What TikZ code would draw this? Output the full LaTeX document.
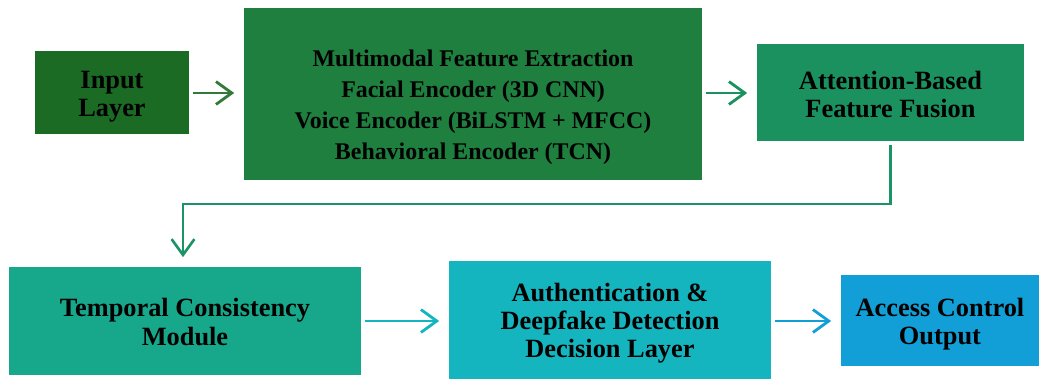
\documentclass[tikz,border=0pt]{standalone}
\usepackage{fontspec}
\setmainfont{Liberation Serif}
\usetikzlibrary{arrows.meta}
\definecolor{inputgreen}{HTML}{1B6B24}
\definecolor{multigreen}{HTML}{1E7F3F}
\definecolor{fusiongreen}{HTML}{1B9160}
\definecolor{temporalteal}{HTML}{17A88C}
\definecolor{decisioncyan}{HTML}{14B5BE}
\definecolor{accessblue}{HTML}{129ED6}
\tikzset{
  block/.style={rectangle, inner sep=0pt},
  caption/.style={inner sep=0pt, align=center, text=black,
    font=\bfseries\fontsize{15}{16}\selectfont},
  flow/.style={line width=1.6pt, -{Straight Barb[length=9pt,width=13pt]},
    shorten <=0.08cm, shorten >=0.19cm},
}
\begin{document}
\begin{tikzpicture}[x=0.02cm, y=-0.02cm]
      \useasboundingbox (0,0) rectangle (1039,379);
      \node[block, fill=inputgreen, minimum width=3.08cm, minimum height=1.66cm]
        (input) at (112,92.5) {};
      \node[block, fill=multigreen, minimum width=9.16cm, minimum height=3.44cm]
        (multi) at (473,94) {};
      \node[block, fill=fusiongreen, minimum width=5.34cm, minimum height=1.94cm]
        (fusion) at (890.5,92.5) {};
      \node[block, fill=temporalteal, minimum width=7.04cm, minimum height=2.16cm]
        (temporal) at (185,321) {};
      \node[block, fill=decisioncyan, minimum width=6.44cm, minimum height=2.36cm]
        (decision) at (610,320) {};
      \node[block, fill=accessblue, minimum width=3.96cm, minimum height=1.82cm]
        (access) at (940,320.5) {};
      \node[caption] (inputtext) at (112,96.5) {Input\\Layer};
      \node[caption, font=\bfseries\fontsize{13.6}{17.6}\selectfont]
        (multitext) at (473,107.5) {Multimodal Feature Extraction\\
          Facial Encoder (3D CNN)\\
          Voice Encoder (BiLSTM + MFCC)\\
          Behavioral Encoder (TCN)};
      \node[caption] (fusiontext) at (890.5,94.5) {Attention-Based\\Feature Fusion};
      \node[caption] (temporaltext) at (185,322) {Temporal Consistency\\Module};
      \node[caption] (decisiontext) at (610,323) {Authentication \&\\Deepfake Detection\\Decision Layer};
      \node[caption] (accesstext) at (940,324.5) {Access Control\\Output};
      \begin{scope}[flow]
        \draw[color=inputgreen!90!white] (input.east |- 0,93) -- (multi.west |- 0,93);
        \draw[color=fusiongreen] (multi.east |- 0,93) -- (fusion.west |- 0,93);
        \draw[color=fusiongreen!85!temporalteal, line width=1.5pt]
          (fusion.south) -- (fusion.south |- 0,204) -| ([xshift=-0.04cm]temporal.north);
        \draw[color=decisioncyan] (temporal.east) -- (temporal.east -| decision.west);
        \draw[color=accessblue] (decision.east |- 0,321) -- (access.west |- 0,321);
      \end{scope}
    \end{tikzpicture}
\end{document}
